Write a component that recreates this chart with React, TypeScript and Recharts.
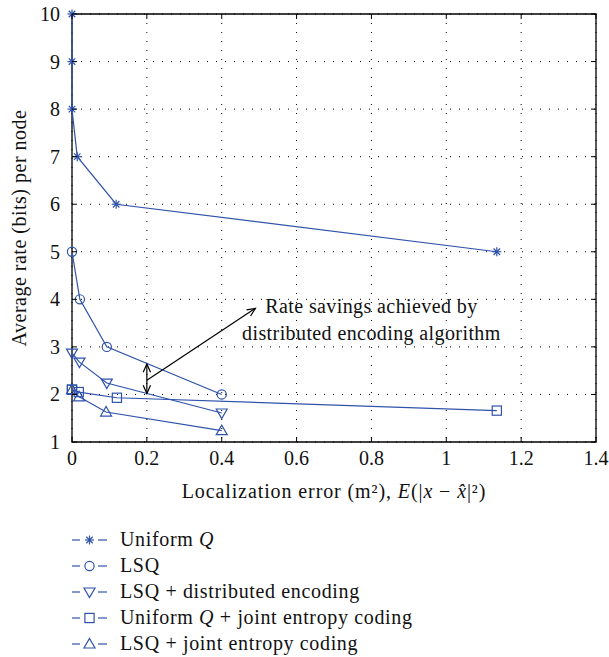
import React from "react";
import {
  CartesianGrid,
  Line,
  LineChart,
  ReferenceArea,
  ReferenceLine,
  XAxis,
  YAxis,
} from "recharts";

// axis ticks
const xTicks = [0, 0.2, 0.4, 0.6, 0.8, 1, 1.2, 1.4];
const yTicks = [1, 2, 3, 4, 5, 6, 7, 8, 9, 10];

// series values (localization error, rate)
const uniformQX = [0, 0, 0, 0.014, 0.118, 1.135];
const uniformQY = [10, 9, 8, 7, 6, 5];
const lsqX = [0, 0.021, 0.093, 0.4];
const lsqY = [5, 4, 3, 2];
const lsqDistX = [0, 0.02, 0.093, 0.4];
const lsqDistY = [2.87, 2.68, 2.24, 1.61];
const uqJointX = [0, 0, 0.018, 0.12, 1.135];
const uqJointY = [2.1, 2.1, 2.05, 1.93, 1.66];
const lsqJointX = [0, 0.019, 0.091, 0.4];
const lsqJointY = [2.1, 1.95, 1.63, 1.24];

const seriesNames = [
  "Uniform Q",
  "LSQ",
  "LSQ + distributed encoding",
  "Uniform Q + joint entropy coding",
  "LSQ + joint entropy coding",
];

const BLUE = "#2f52aa";
const FONT = "Liberation Serif, Times New Roman, Times, DejaVu Serif, serif";
const W = 609;
const H = 657;
const PLOT_LEFT = 72;
const PLOT_RIGHT = 596;
const PLOT_TOP = 14;
const PLOT_BOTTOM = 442;
const X_AXIS_H = 60;

const textStyle = { fontFamily: FONT };

type Shape = "star" | "circle" | "down" | "square" | "up";

const series: { name: string; shape: Shape; xs: number[]; ys: number[] }[] = [
  { name: seriesNames[0], shape: "star", xs: uniformQX, ys: uniformQY },
  { name: seriesNames[1], shape: "circle", xs: lsqX, ys: lsqY },
  { name: seriesNames[2], shape: "down", xs: lsqDistX, ys: lsqDistY },
  { name: seriesNames[3], shape: "square", xs: uqJointX, ys: uqJointY },
  { name: seriesNames[4], shape: "up", xs: lsqJointX, ys: lsqJointY },
];

function Marker({ shape, cx, cy }: { shape: Shape; cx: number; cy: number }) {
  const common = { fill: "none", stroke: BLUE, strokeWidth: 1.2 };
  switch (shape) {
    case "star": {
      const s = 4.5;
      const d = s * 0.72;
      return (
        <g {...common}>
          <line x1={cx - s} x2={cx + s} y1={cy} y2={cy} />
          <line x1={cx} x2={cx} y1={cy - s} y2={cy + s} />
          <line x1={cx - d} x2={cx + d} y1={cy - d} y2={cy + d} />
          <line x1={cx - d} x2={cx + d} y1={cy + d} y2={cy - d} />
        </g>
      );
    }
    case "circle":
      return <circle cx={cx} cy={cy} r={4.6} {...common} />;
    case "down":
      return <polygon points={`${cx - 5.5},${cy - 4} ${cx + 5.5},${cy - 4} ${cx},${cy + 5.5}`} {...common} />;
    case "up":
      return <polygon points={`${cx - 5.5},${cy + 4} ${cx + 5.5},${cy + 4} ${cx},${cy - 5.5}`} {...common} />;
    case "square":
      return <rect x={cx - 4.6} y={cy - 4.6} width={9.2} height={9.2} {...common} />;
  }
}

function renderDot(shape: Shape) {
  return (props: any) => {
    const { cx, cy, index } = props;
    if (cx == null || cy == null) return <g key={`${shape}-${index}`} />;
    return (
      <g key={`${shape}-${index}`}>
        <Marker shape={shape} cx={cx} cy={cy} />
      </g>
    );
  };
}

function SeriesName({ name }: { name: string }) {
  if (name.startsWith("Uniform Q")) {
    return (
      <>
        Uniform <tspan fontStyle="italic">Q</tspan>
        {name.slice("Uniform Q".length)}
      </>
    );
  }
  return <>{name}</>;
}

function YTick(props: any) {
  const { y, payload } = props;
  return (
    <g>
      <line x1={PLOT_LEFT} x2={PLOT_LEFT + 5} y1={y} y2={y} stroke="#000" />
      <line x1={PLOT_RIGHT} x2={PLOT_RIGHT - 5} y1={y} y2={y} stroke="#000" />
      <text x={PLOT_LEFT - 12} y={y} dy={7} textAnchor="end" style={textStyle} fontSize={20} fill="#111">
        {payload.value}
      </text>
    </g>
  );
}

function XTick(props: any) {
  const { x, payload } = props;
  return (
    <g>
      <line x1={x} x2={x} y1={PLOT_BOTTOM} y2={PLOT_BOTTOM - 5} stroke="#000" />
      <line x1={x} x2={x} y1={PLOT_TOP} y2={PLOT_TOP + 5} stroke="#000" />
      <text x={x} y={PLOT_BOTTOM + 23} textAnchor="middle" style={textStyle} fontSize={20} fill="#111">
        {payload.value}
      </text>
    </g>
  );
}

function arrowHead(x1: number, y1: number, x2: number, y2: number) {
  const ang = Math.atan2(y2 - y1, x2 - x1);
  const len = 9;
  const spread = 0.42;
  const ax = x2 - len * Math.cos(ang - spread);
  const ay = y2 - len * Math.sin(ang - spread);
  const bx = x2 - len * Math.cos(ang + spread);
  const by = y2 - len * Math.sin(ang + spread);
  return `M${ax},${ay} L${x2},${y2} L${bx},${by}`;
}

function DoubleArrow(props: any) {
  const { x1, y1, x2, y2 } = props;
  return (
    <g stroke="#000" strokeWidth={1.2} fill="none">
      <line x1={x1} y1={y1} x2={x2} y2={y2} />
      <path d={arrowHead(x1, y1, x2, y2)} />
      <path d={arrowHead(x2, y2, x1, y1)} />
    </g>
  );
}

function NoteArrow(props: any) {
  const { x1, y1, x2, y2 } = props;
  const cx = x2 + 116;
  return (
    <g>
      <g stroke="#000" strokeWidth={1.2} fill="none">
        <line x1={x1} y1={y1} x2={x2} y2={y2} />
        <path d={arrowHead(x1, y1, x2, y2)} />
      </g>
      <text style={textStyle} fontSize={20} letterSpacing={0.4} fill="#111" textAnchor="middle">
        <tspan x={cx} y={y2 + 5}>Rate savings achieved by</tspan>
        <tspan x={cx} y={y2 + 32}>distributed encoding algorithm</tspan>
      </text>
    </g>
  );
}

function XLabel(props: any) {
  const vb = props.viewBox || {};
  const cx = (vb.x ?? PLOT_LEFT) + (vb.width ?? PLOT_RIGHT - PLOT_LEFT) / 2;
  return (
    <text x={cx} y={PLOT_BOTTOM + 56} textAnchor="middle" style={textStyle} fontSize={20} letterSpacing={0.9} fill="#111">
      Localization error (m²), <tspan fontStyle="italic">E</tspan>(|<tspan fontStyle="italic">x</tspan> − <tspan fontStyle="italic">x̂</tspan>|²)
    </text>
  );
}

function YLabel(props: any) {
  const vb = props.viewBox || {};
  const cy = (vb.y ?? PLOT_TOP) + (vb.height ?? PLOT_BOTTOM - PLOT_TOP) / 2;
  const cx = 19;
  return (
    <text
      x={cx}
      y={cy}
      transform={`rotate(-90 ${cx} ${cy})`}
      textAnchor="middle"
      dominantBaseline="central"
      style={textStyle}
      fontSize={20}
      letterSpacing={0.5}
      fill="#111"
    >
      Average rate (bits) per node
    </text>
  );
}

function LegendBlock() {
  const top = 540;
  const step = 26;
  return (
    <svg width={W} height={H} style={{ position: "absolute", left: 0, top: 0, pointerEvents: "none" }}>
      {series.map((s, i) => {
        const y = top + i * step;
        return (
          <g key={s.name}>
            <line x1={72} x2={80} y1={y} y2={y} stroke={BLUE} strokeWidth={1.2} />
            <line x1={98} x2={107} y1={y} y2={y} stroke={BLUE} strokeWidth={1.2} />
            <Marker shape={s.shape} cx={89.5} cy={y} />
            <text x={120} y={y + 6} style={textStyle} fontSize={20} letterSpacing={0.65} fill="#111">
              <SeriesName name={s.name} />
            </text>
          </g>
        );
      })}
    </svg>
  );
}

export default function App() {
  return (
    <div style={{ position: "absolute", left: 0, top: 0, width: W, height: H, background: "#fff", fontFamily: FONT }}>
      <LineChart
        width={W}
        height={H}
        margin={{ top: PLOT_TOP, right: W - PLOT_RIGHT, left: 0, bottom: H - PLOT_BOTTOM - X_AXIS_H }}
      >
        <CartesianGrid stroke="#000" strokeDasharray="1 8" strokeWidth={1} />
        <XAxis
          type="number"
          dataKey="x"
          domain={[0, 1.4]}
          ticks={xTicks}
          height={X_AXIS_H}
          axisLine={false}
          tickLine={false}
          tick={XTick}
          interval={0}
          label={<XLabel />}
        />
        <YAxis
          type="number"
          dataKey="y"
          domain={[1, 10]}
          ticks={yTicks}
          width={PLOT_LEFT}
          axisLine={false}
          tickLine={false}
          tick={YTick}
          interval={0}
          label={<YLabel />}
        />
        <ReferenceArea x1={0} x2={1.4} y1={1} y2={10} fill="none" stroke="#000" strokeWidth={1.3} fillOpacity={0} />
        {series.map((s) => (
          <Line
            key={s.name}
            name={s.name}
            data={s.xs.map((x, i) => ({ x, y: s.ys[i] }))}
            dataKey="y"
            type="linear"
            stroke={BLUE}
            strokeWidth={1.2}
            dot={renderDot(s.shape)}
            activeDot={false}
            isAnimationActive={false}
          />
        ))}
        <ReferenceLine
          segment={[
            { x: 0.2, y: 2.02 },
            { x: 0.2, y: 2.64 },
          ]}
          shape={DoubleArrow}
        />
        <ReferenceLine
          segment={[
            { x: 0.2, y: 2.3 },
            { x: 0.49, y: 3.81 },
          ]}
          shape={NoteArrow}
        />
      </LineChart>
      <LegendBlock />
    </div>
  );
}
